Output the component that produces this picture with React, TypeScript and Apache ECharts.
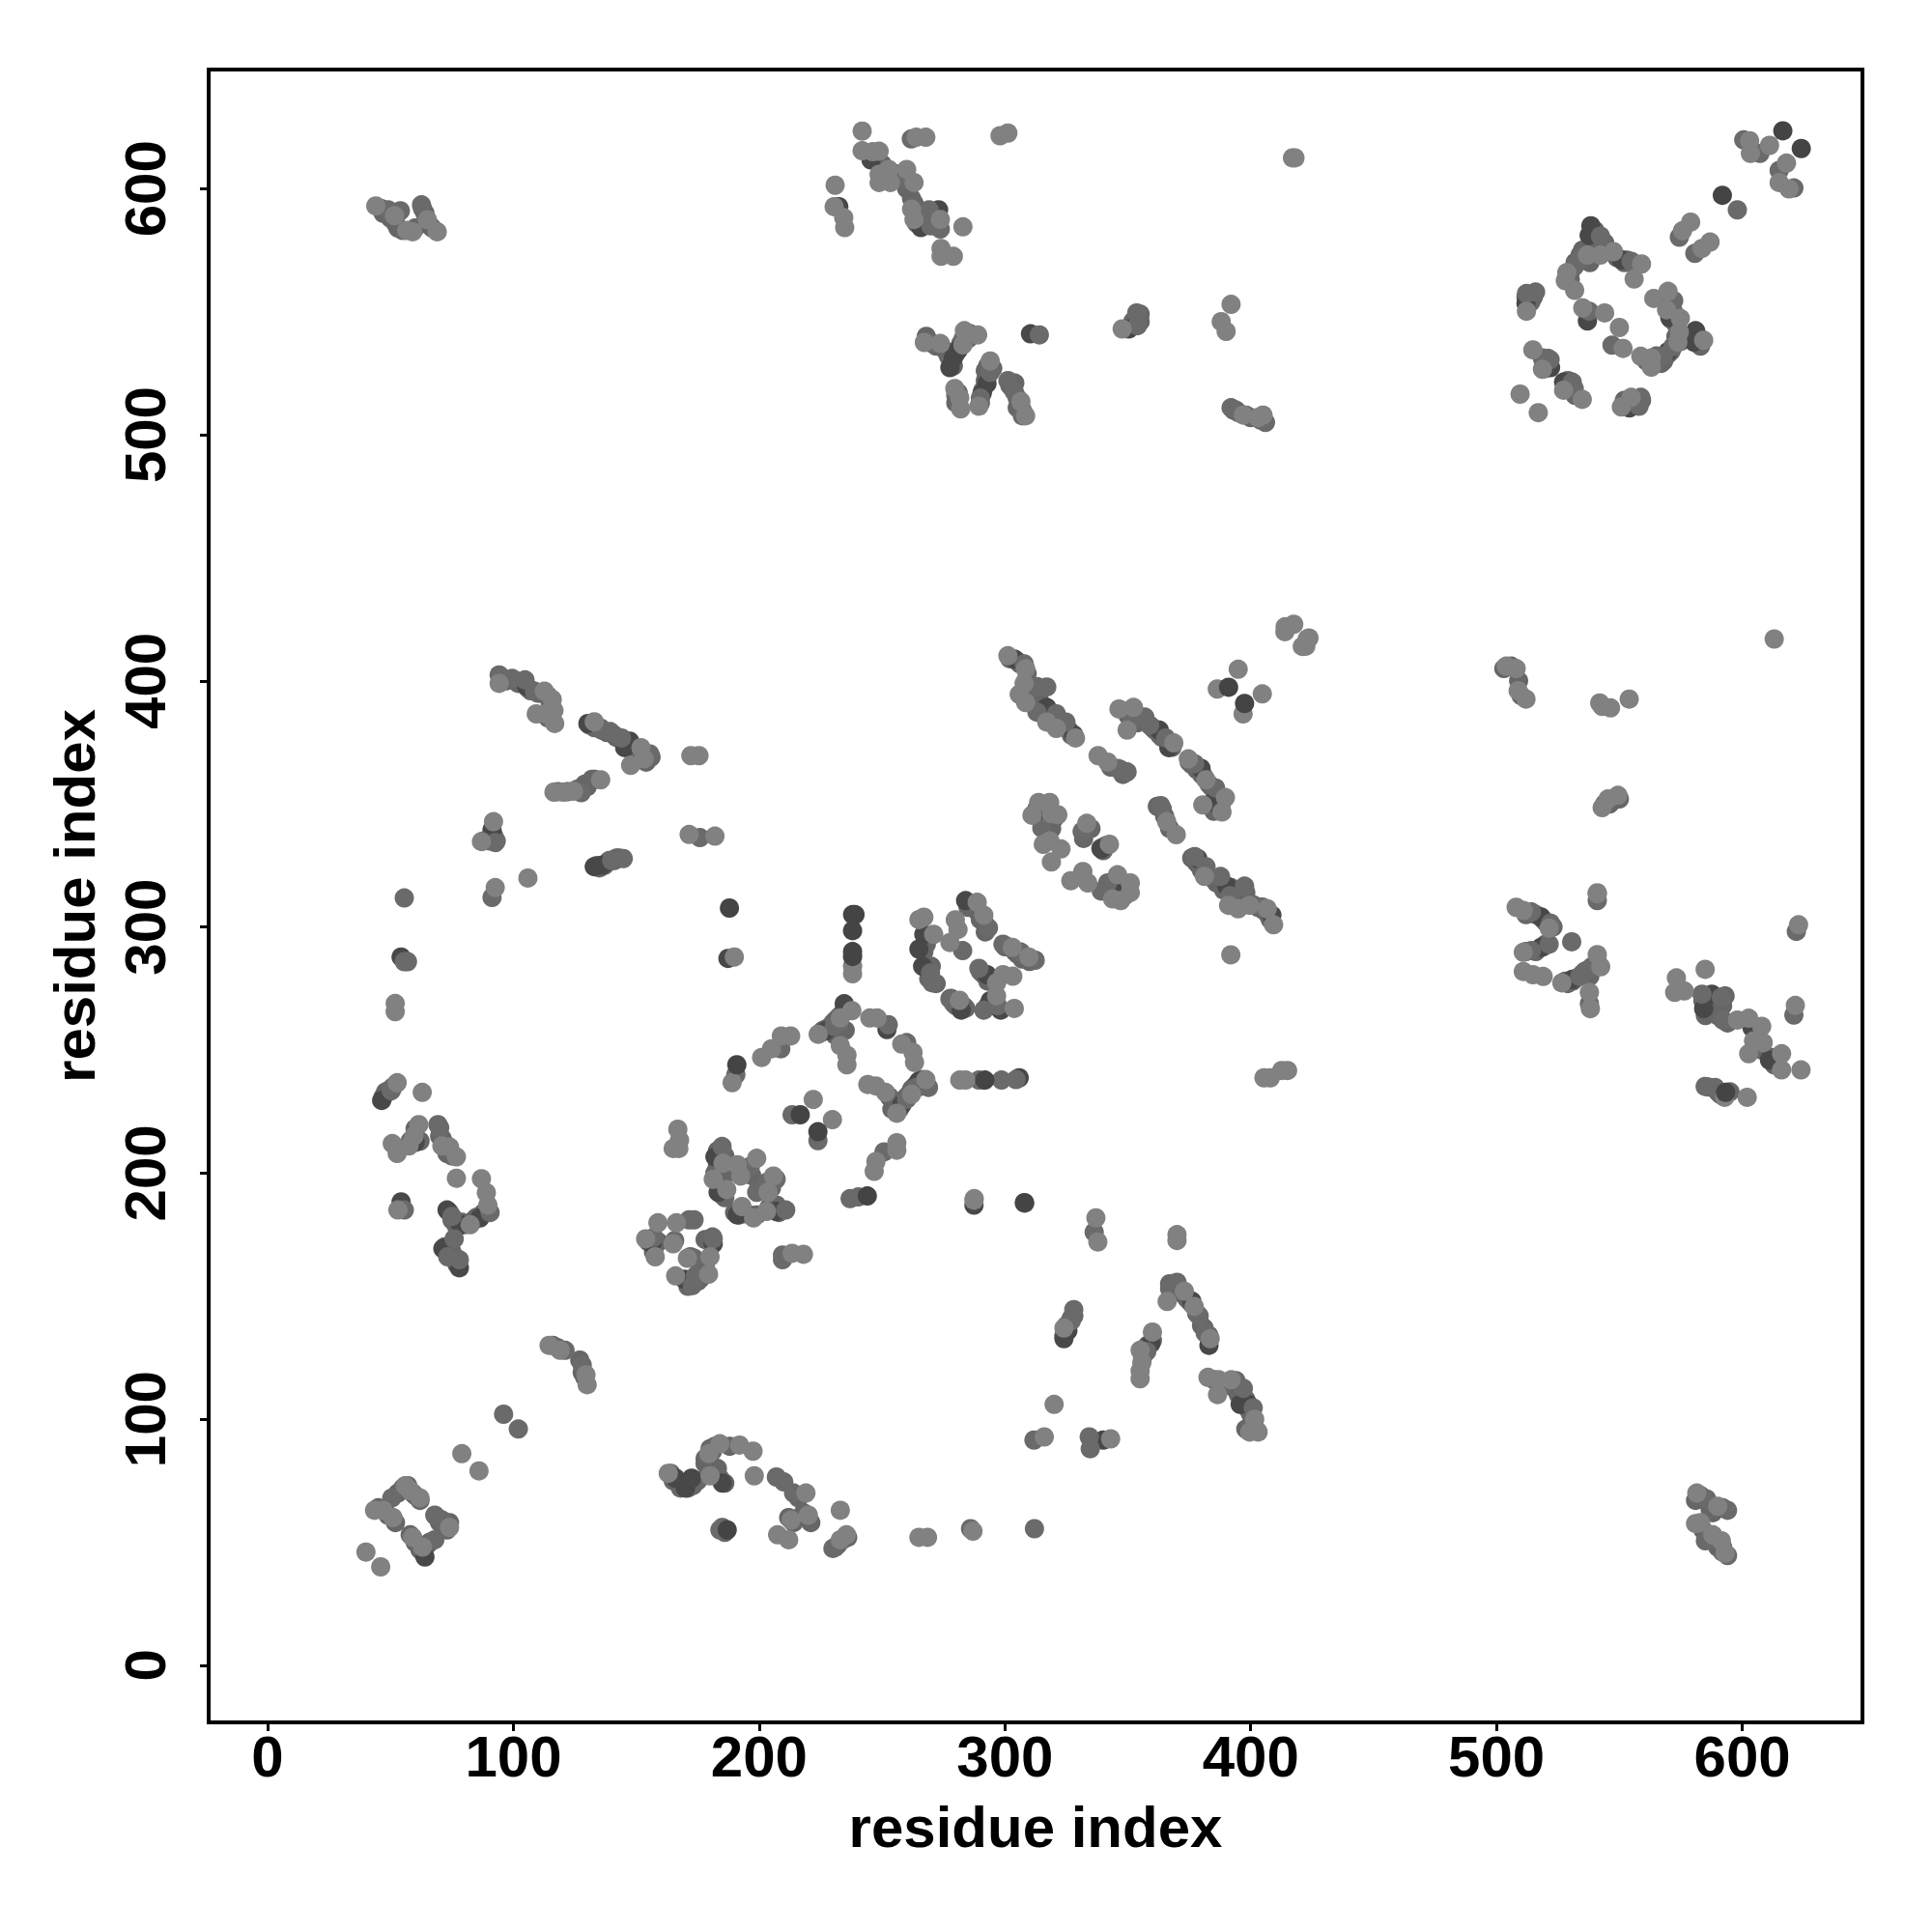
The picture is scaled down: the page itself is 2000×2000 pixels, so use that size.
import React, { useEffect, useRef } from "react";
import * as echarts from "echarts";

const tickValues = [0, 100, 200, 300, 400, 500, 600];

const darkBack: number[][] = [
[64,44],[60,212.5],[46.4,229.5],[54.3,188.3],[86.4,181.8],[78.5,179],[73,185],[71.3,169.3],[78,161.5],
[170,72],[166,76],[185,74],[172.5,76],[227,257.7],[252,258.3],[258,227.6],[265,237.4],[234.6,268.8],
[284,310.7],[267,297],[266.5,284],[282.2,266.2],[292.7,280.6],[298.3,266.2],[294,270],
[54.3,287.8],[91.3,339.5],[132.9,324.5],[136,325.1],[105.4,397.8],[130.3,382.7],[147.3,375.5],[145.3,372.9],
[245.5,611.7],[232.4,592.7],[265.8,584.2],[273,591.4],[279,531.2],[281,534.5],[290.7,516.8],[292.7,520.8],[310.4,541],[350.4,543],[277.6,527.3],
[537.7,581],[538.4,584.9],[550.8,571.1],[512,553.4],[522,527.3],[527.3,521.4],[554.1,510.9],[569.8,533.8],[581,542.3],[580.3,537.7],[570.5,547.6],[537,546.2],
[303.8,408.9],[317,389.2],[328,378.1],[350.3,387.3],[362.8,380],[366.7,372.9],[379.8,364.4],[384.4,350.6],[378.5,327.7],[390.3,316.6],[408.6,304.8],[345.8,314],[315,342.8],[339.2,331.7],
[518.1,291.7],[530.6,278.6],[584.3,266.8],[587.6,272.7],[604,259],[611.1,245.9],[518.1,304.1],
[182,206.6],[183.3,192.2],[191.1,183],[206.9,184.4],[156.4,171.3],[169.5,156.9],[181.3,171.3],
[359.4,130.8],[325.6,136],[324,132.7],[376,148],[383,130],[395.7,106],[399,106],[340,91.5],[287.4,187],[305.8,238.7],[265,291],[187.3,287.2],
];

const extraPoints: number[][] = [
[45,64],[49,61],[52,58],[53,70],[55,72],[57,73],[59,70],[60,69],[62,67],[69,60],[70,58],[72,57],[73,55],[74,58],[58,53],[60,50],[62,47],[63,46],[65,49],[66,50],
[116,130],[118,129],[127,124],[128,119],[129,117],
[164,78],[165,75],[167,74],[168,72],[171,72],[173,73],[175,75],[178,82],[178,84],[180,88],[181,87],[182,89],[183,80],[182,78],[184,76],[186,74],[188,89],[186,54],[185,56],[216,68],[212,60],[214,58],[218,62],[221,58],[231,48],[232,49],[234,51],[236,52],
[47,231],[48,233],[49,233],[50,234],[51,235],[58,213],[60,218],[62,213],[71,214],[72,212],[73,208],[75,207],[70,215],[79,180],[80,179],[83,180],[84,181],[85,182],[87,183],[88,184],[74,184],[75,181],[76,180],[77,178],[72,170],[73,168],[74,167],[75,168],[76,165],[77,163],
[225,257],[226,258],[228,259],[229,259],[230,261],[231,262],[232,263],[233,264],[234,265],[235,266],[236,266],[231,256],[233,258],[235,258],
[255,228],[256,227],[257,226],[258,229],[259,230],[260,231],[261,232],[262,234],[263,235],[264,236],[265,235],[266,238],[253,231],[254,226],
[285,308],[286,309],[289,306],[290,303],[292,301],[292,298],[300,292],[301,292],[304,290],[305,289],[307,287],[308,288],[310,286],[290,282],[291,281],[293,278],[295,278],[278,271],[279,269],[280,268],[283,268],[284,267],[293,268],[295,268],[268,293],[267,290],[269,296],[270,284],[269,279],[272,277],
[96,401],[97,400],[101,400],[102,399],[103,399],[106,397],[107,396],[110,395],[111,395],[114,394],[115,391],[115,388],[114,385],
[131,382],[133,381],[136,380],[138,379],[141,378],[142,377],[146,375],[148,374],[149,373],[150,372],[153,371],[154,370],[156,369],[154,367],[151,368],
[129,358],[130,357],[132,360],[133,360],[126,356],[122,355],[118,355],
[134,325],[135,324],[137,325],[138,326],[139,327],[141,327],[142,328],[143,328],
[88,335],[90,335],[92,337],[93,335],
[250,610],[251,605],[255,604],[256,606],[258,606],[260,600],[262,596],[263,594],[265,590],[266,588],[267,590],[268,586],[270,588],[271,586],[272,585],[271,590],[264,586],
[268,540],[272,536],[274,536],[276,534],[277,532],[278,530],[279,528],[280,533],[282,537],[283,539],[285,539],[286,541],
[280,516],[281,517],[280,513],[292,526],[292,522],[291,518],[290,513],[293,528],[295,527],[302,520],[303,519],[304,521],[305,515],[305,511],[307,510],
[352,546],[351,544],[353,547],[355,546],[355,549],
[393,510],[394,510],[395,509],[398,508],[400,507],[404,506],
[46,592],[47,590],[48,590],[50,588],[52,586],[53,584],[55,583],[60,584],[63,592],[64,590],[66,585],[67,584],
[534,573],[535,575],[536,572],[538,570],[532,570],[530,566],[530,563],[539,582],[540,583],[541,579],[544,578],[549,572],[552,570],[553,571],[556,569],
[512,556],[513,555],[514,554],[515,556],[520,529],[520,527],[519,530],[521,531],[528,520],[529,519],[529,522],[532,516],
[552,514],[553,512],[555,512],[556,514],[557,513],[559,514],
[561,530],[565,532],[566,530],[567,529],[568,530],[569,532],[570,533],[571,534],[572,536],[573,540],[575,538],[572,550],[571,552],[570,556],[571,547],[573,545],
[581,538],[582,540],[583,536],[582,537],
[503,405],[506,406],[509,400],[510,394],
[544,350],[546,350],[547,351],[548,352],[550,352],
[302,409],[305,408],[306,407],[309,403],[310,398],[311,396],[312,394],[314,392],[315,390],[316,388],[318,386],[319,385],[321,384],[322,383],[323,382],[325,381],[326,380],[327,378],
[350,386],[351,388],[353,385],[354,383],[355,385],[360,381],[361,380],[363,378],[364,377],[367,375],[368,373],[375,367],[376,366],[378,364],[380,362],[381,361],[383,358],[384,357],[386,354],[387,353],[386,349],[385,347],[387,348],[388,350],
[343,365],[347,364],[348,362],[362,349],[364,348],[365,345],[367,340],
[376,328],[378,326],[379,325],[380,323],[382,322],[384,320],[386,318],[388,317],[389,315],[392,316],[393,314],[396,314],[398,314],[395,312],[401,309],[403,308],[405,307],[407,305],[408,303],
[313,348],[315,346],[316,344],[317,342],[320,344],[319,340],[334,340],[335,340],[332,336],[339,332],[340,331],[341,333],[344,318],[343,316],[346,319],[348,315],[349,313],
[512,305],[516,305],[519,303],[520,302],[523,300],[516,290],[519,292],[520,293],[512,290],[528,278],[529,277],[531,278],[532,279],[535,281],[536,282],[538,280],[539,284],[541,286],[584,270],[585,269],[586,271],[587,267],[589,269],[590,270],[592,268],[593,272],[585,264],[590,264],[594,261],[608,250],[612,247],[613,244],[586,235],[590,233],[591,232],[595,233],
[581,67],[583,69],[586,66],[587,63],[588,62],[592,64],[584,55],[586,52],[589,50],[590,48],[592,46],[592,48],
[186,207],[183,209],[184,206],[183,203],[182,200],[185,191],[186,190],[192,185],[190,184],[192,183],[196,183],[199,183],[204,186],[207,187],[193,201],[195,200],[197,199],[200,195],[201,193],[204,195],[205,194],[208,184],[186,199],
[155,172],[158,171],[157,168],[159,172],[172,156],[171,154],[175,156],[176,157],[173,157],[178,162],[181,174],[178,173],[172,166],[175,164],
[325,138],[326,139],[327,141],[328,142],[324,134],[356,125],[356,128],[358,130],[360,132],[367,155],[369,154],[371,153],[372,151],[374,149],[375,148],[376,147],[378,143],[380,138],[381,137],[383,134],[385,116],[388,115],[390,114],[393,113],[394,112],[395,110],[396,109],[398,108],[399,104],[400,102],[401,98],[402,96],[398,96],
];

const midPoints: number[][] = [
[50.5,68],[68,61],[71,59],[68,51],[96,102],[102,96],[121,128],[128,122],[184,55],[207,76.5],[210,74.5],[214,70],[312,55.5],[286,55.5],[230,47.5],
[50.3,233.5],[69.3,219.7],[70,218.4],[90.5,184],[55.6,185],[75.9,173.3],[78,164.8],[75,182.4],[73.3,166],
[190.5,240],[208.8,250.5],[230.5,259.6],[232.4,261],[252.5,260.3],[260,253],[260,230],[263.9,234.8],[268.9,234.8],[289.4,237.8],[298.6,237.8],[304.5,238],
[291.4,266.2],[293.3,299.6],[299.2,293],[306.4,289.8],[312.3,286.5],[289.4,283.2],[277.6,270.8],[282.8,290.4],[269.7,281.3],[270.4,277.3],[297,268],
[55.6,311.8],[55.6,285.9],[56.9,285.9],[91.3,312],[92.6,334.3],[140,327],[144.7,327.8],[127.6,354.6],[175.9,336.3],
[94.2,402.4],[99.5,401],[104.7,400.4],[108.6,395.8],[135.5,380.8],[139.4,379.4],[144,376.8],[155.5,370.3],
[259.3,603.9],[261.9,620.2],[269.1,591.4],[269.8,584.9],[273.7,583.6],[270.4,537.1],[284.8,541],[294,525.3],[290,514.9],[301.2,522],[303.8,517.5],[307.1,507.7],[314,540.6],[353.6,549.5],[353.9,544.3],
[392,511],[406,505],[49,591.4],[54,591],[62.6,593.4],
[600.6,619.8],[607.2,614.3],[615,607.4],[621,600.3],[598,591.4],[574.4,580.3],[580.7,573.7],[542.3,580.7],[554.8,570.5],[533.8,571],[531.8,568.5],[537.7,550.2],[547,536.4],[515.9,558],[512.2,557.4],[518.7,531.2],[521.8,530.5],[530.8,521.4],[531.6,518.8],[558.7,515.2],[558,511.6],[567.9,531.9],[571.8,535.8],[572.1,554.5],
[307.8,406.9],[313,397.7],[317,397.5],[313,387.3],[320.9,386.6],[324.8,383.3],[345.8,364.4],[349.7,363],[351.7,384],[356.9,385.3],[358.9,382],[365.4,376.8],[377.2,366.3],[385.7,356.5],
[363.4,349.3],[377.2,328.6],[381.8,324.5],[387.7,320.5],[397.5,316.6],[391.6,312.7],[404.7,308.1],[331.4,338.8],[339.2,314.6],[341.8,317.9],[315,340.2],
[514.2,306.1],[522,301.5],[541,310.7],[622,298.2],[514.2,290.4],[521.4,293],[530.6,294],[533.8,279.9],[537.1,282.5],[537.8,268.8],
[583.6,272.7],[591.5,271.4],[592.1,262.2],[621,264.2],[584.9,235.2],[588.9,234.8],
[585.5,67.6],[585,50.6],[594,44.6],[594,63],
[184.9,210.8],[196.4,202.7],[206.9,197.5],[203,196.2],[199,192.2],[210.8,185],[213.4,223.7],[223.9,213.2],[209.5,166.7],[209.5,164.8],[250.8,208.6],[237,189.6],[240.3,190.3],
[171.5,181],[173.5,181],[181.3,173.3],[157.1,173.9],[165.6,172.6],[173.5,165.4],[172.8,154.3],[174.1,158.2],
[328,144.5],[327,140],[379,142],[381.5,135],[370,155.6],[367,153],[394,115.7],[401,104.6],[357.7,127.5],[311.8,91.5],[334.3,92.8],[334.7,88],[336.3,176],[397,112.5],
];

const lightPoints: number[][] = [
[40,46],[46,40],[79,86],[86,79],[43.5,63],[47,63],[51,60],[56,73],[58,71],[62,68],[74,56],[59,52],[63,48],
[114.5,130],[119,128],[129.5,118],[130,114],[163,78],[179.5,86],[184,90],[192,89.5],[197.5,87],[198,77],[180,77],
[219,70],[220,61],[213,59],[207.5,53],[212,51],[233,63],[235.5,53],[233,51],[265,52],[268.5,52],[287,54.5],
[52.7,236.7],[62.9,232.8],[61.5,219.7],[59.5,215],[57.5,211],[50.7,212],[52.7,208],[70.9,211],[74,210.6],[76.8,206.6],[76.8,197.9],[87,197.7],[89,192],[89.6,187],[82.4,179],[53,185],
[166.9,217.8],[167.6,213.4],[165,210],[167.3,210],[189,236.7],[201,247],[205,250.5],[209,255.7],[212.8,255.7],[224,256.4],[237.7,266],[233,263],[233,251.8],[235.7,247.9],[235.7,244],
[245,263],[248,263],[258,252.4],[262.6,249],[263.2,245],[244.2,236],[247.5,235.4],[251.4,232.8],[256,224.3],[262,232],[267.8,238],[281.6,237.8],[284,237.8],
[287.4,189],[391.9,288.7],[405.4,238.7],[408,238.7],[412.6,241.7],[415,241.7],[189.9,287.8],
[288.7,310],[291.4,304.8],[303,291.7],[309.7,287.8],[296.6,277.3],[299.2,280.6],[303.2,280],[281.5,270.2],[296.6,272],[303.8,266.9],[279.8,302.9],[280.9,299],[271,297],[267,304],[265,303],[277.6,293.7],
[51.9,268.9],[51.9,265.6],[92.6,316],[105.9,319.9],[91.9,342.8],[87,334.7],[116.5,354.8],[120.4,354.8],[124.4,355.2],[135.5,359.8],[171.5,337.6],[182,336.9],[172.2,369.6],[175.5,369.6],
[94.2,399],[112.6,395.8],[115.8,392.5],[116.5,388],[113.2,386.6],[109.3,386.6],[116.8,382.7],[132.9,383.4],[151.9,372.9],[153.2,368.3],[147.7,365.7],
[241.9,623.4],[241.9,615.4],[246.2,615],[248.8,615.2],[248.8,605.8],[248.8,602.5],[252.7,607.8],[253.4,602.5],[260,607.8],[263,602.5],[263.9,620.9],[267.8,620.9],[298,621.5],[301.2,622.6],
[230.9,601.4],[230.5,592.7],[234.4,588.2],[234.8,584.2],[262,591.7],[263,587.5],[273.7,587.5],[282.9,584.5],[274,575.7],[274,572.5],[279,572.5],
[267.2,537.5],[273.7,537.1],[282.9,536.5],[283.5,542.3],[288.9,540.6],[279.6,518.8],[281.6,515],[282,510.5],[294,530],[289.4,511.6],[306.5,513.5],[308.4,507.7],[347.7,543],
[392,553],[388,546],[390,542],[397,508],[403,507],[405,508],[417,612.5],[418,612.5],
[44,593],[51.6,589],[56.6,583],[59,582.5],[65,587.4],[69,582.5],
[603,619.5],[603.3,614.3],[611.1,617.6],[618,610.4],[615,602.5],[619,599.9],[579,586.4],[575.7,582.9],[586.9,578.3],[583.6,575.7],[547.6,574.4],[559,569.4],[556,563.3],[542.3,573],[537,573],[528.6,565.9],[528,562.6],[531.8,558.7],
[535.1,551.5],[544,549.5],[550,543.6],[551.5,535.1],[512.2,550.2],[514.8,534.5],[518.7,526.6],[527.3,518.1],[534.9,514.4],[509.6,516.5],[517,509],[554.8,515.2],[550.8,511.3],[558.7,531.9],[563,531.2],[563,527.5],[573.8,537.7],[574.4,541.7],[584.3,538.4],[574.8,547.3],[569.2,550.8],[569.8,558.3],[564,555.4],
[394.9,404.7],[386.4,396.7],[396.9,386.6],[404.7,394.7],[423.7,417.4],[422.4,414.1],[413.9,420],[414,422],[417.5,423],[423,417],[421,414],
[301.2,410.2],[308.4,404.9],[305.8,394.5],[307.8,399],[308.4,391.2],[317,383.3],[320.9,380.7],[328.7,376.8],[337.9,369.6],[341.8,367],[346.4,388.6],[352.3,389.2],[349.7,380],[368.7,374.8],[374.6,368.3],[381.8,359.8],[380.5,349.6],[388.3,346.7],[389.7,352.6],[365.8,342.8],[369.7,337.5],
[381.2,320.5],[391,308.8],[394.9,307.4],[399.5,308.8],[406.7,307.4],[409.3,300.9],
[313.7,350.6],[318.2,350.6],[311,345.4],[321.5,345.6],[318.9,346],[315.6,333.6],[322.8,331.7],[318.9,326.4],[318.3,335],[333.3,342.1],[342.5,333.6],[331.7,322.5],[326.8,318.8],[333.7,317.9],[345.8,321.2],[351,317.9],[351,314],[343.8,311.4],[347.1,310.7],
[508,308],[510.9,306.7],[521.4,299.5],[541,313.9],[622.9,300.9],[510.9,289.7],[510.9,281.9],[514.8,280.6],[519,279.9],[526.6,277.3],[541,288.8],[542.4,283.8],[537.8,273.4],[538.2,266.8],
[573.2,279.3],[572.5,273.4],[576.4,274],[584.9,282.8],[598,262.2],[602.6,262.9],[607.9,259.6],[604.6,253.7],[608.5,253],[602.6,248.5],[616,248.5],[616,241.9],[623.9,241.9],[621.6,268.1],[592.8,230.8],[602,230.8],
[504,406],[508,405],[508.8,396],[512,392.6],[542,391],[543,389.6],[546.4,389],[554,392.6],[613,417],[543,348.5],[545.4,352],[549.4,353.5],[541,313.5],
[581.5,70],[590,64.6],[583,58],[581,57.6],[588,53],[591.5,50.6],[593,45.6],
[185.3,204],[181.3,197.5],[186.8,193.3],[191.1,203.4],[199,206],[192.5,198.8],[205.8,198.8],[203.6,192.2],[193,186.4],[197.7,181.8],[203,184.4],
[222,229.9],[229.8,221.7],[213.4,167.4],[218,167],[256,212.3],[256,209.3],[247.5,204.7],[246.8,200.7],[287.5,189.6],
[158.8,179.8],[166.3,179.8],[153.8,173.3],[157.7,166],[165,171.3],[170.8,165.4],[180,166],[166,158.2],[179.4,158.9],
[324,137],[337,181.8],[337.8,172],[370,175],[370,172.6],[366,147.8],[373,152],[377,145.8],[383.5,132.7],[382.6,117],[387,116],[386.5,110],[392,116],[401.6,100],[399.6,94.8],[403,94.8],
[360,135.4],[355,128],[355.7,123],[355,119.6],[355,116.4],[320,106],[316,92.8],[343,92],
[238,281],[238,284],
];

const darkTop: number[][] = [
[187,55],[190.9,244],[216.7,223.7],[223.9,216.8],[244,190.7],[291.8,237.8],[307.9,188],[238,305],[239,305],[238,298.5],[238,290],[238,288],[187.9,307.7],
[616.5,623.5],[624,616.3],[591.9,597.3],[593.2,232.8],[308,187.8],[397.5,390.8],[391,397.4],
];

export default function App() {
  const ref = useRef<HTMLDivElement>(null);
  useEffect(() => {
    const chart = echarts.init(ref.current, null, { renderer: "svg" });
    const axisLabel = {
      customValues: tickValues,
      color: "#000",
      fontFamily: "Liberation Sans",
      fontWeight: "bold" as const,
      fontSize: 60,
      hideOverlap: false,
    };
    const axisCommon = {
      type: "value" as const,
      name: "residue index",
      nameLocation: "middle" as const,
      nameTextStyle: { color: "#000", fontFamily: "Liberation Sans", fontWeight: "bold" as const, fontSize: 60 },
      axisLine: { show: false, onZero: false },
      axisTick: { show: true, customValues: tickValues, length: 9, lineStyle: { color: "#000", width: 3 } },
      splitLine: { show: false },
    };
    const scatter = (data: number[][], color: string) => ({
      type: "scatter" as const,
      data,
      symbol: "circle",
      symbolSize: 20,
      itemStyle: { color, opacity: 1 },
      silent: true,
    });
    chart.setOption({
      animation: false,
      backgroundColor: "#fff",
      grid: { left: 216, top: 72, width: 1712, height: 1711, show: true, borderColor: "#000", borderWidth: 4, backgroundColor: "transparent" },
      xAxis: { ...axisCommon, min: -24, max: 648.9, nameGap: 78, axisLabel: { ...axisLabel, margin: 5 } },
      yAxis: { ...axisCommon, min: -23.2, max: 648.4, nameGap: 109, axisLabel: { ...axisLabel, margin: 36, rotate: 90 } },
      series: [
        scatter(extraPoints, "#666666"),
        scatter(darkBack, "#484848"),
        scatter(midPoints, "#6a6a6a"),
        scatter(lightPoints, "#818181"),
        scatter(darkTop, "#444444"),
      ],
    });
    return () => chart.dispose();
  }, []);
  return <div ref={ref} style={{ position: "absolute", left: 0, top: 0, width: 2000, height: 2000 }} />;
}
